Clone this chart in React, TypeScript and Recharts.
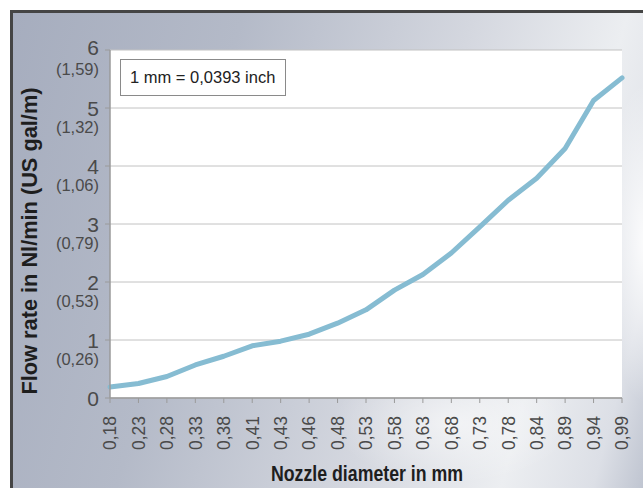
import { LineChart, Line, XAxis, YAxis, CartesianGrid } from "recharts";

const diameters = [
  "0,18", "0,23", "0,28", "0,33", "0,38", "0,41", "0,43", "0,46", "0,48", "0,53",
  "0,58", "0,63", "0,68", "0,73", "0,78", "0,84", "0,89", "0,94", "0,99",
];
const flowNl = [
  0.19, 0.25, 0.37, 0.57, 0.72, 0.9, 0.98, 1.1, 1.29, 1.52,
  1.86, 2.13, 2.5, 2.95, 3.41, 3.79, 4.3, 5.13, 5.52,
];
const flowTicks = [0, 1, 2, 3, 4, 5, 6];
const galLabels = ["", "(0,26)", "(0,53)", "(0,79)", "(1,06)", "(1,32)", "(1,59)"];

const data = diameters.map((d, i) => ({ d, flow: flowNl[i] }));

const FONT = "'Liberation Sans', Arial, sans-serif";

function FlowTick({ x, y, payload }: any) {
  const gal = galLabels[flowTicks.indexOf(payload.value)];
  const top = payload.value === 6 ? -3 : 0;
  return (
    <g>
      <text x={x - 4} y={y + top} dy="0.36em" textAnchor="end" fontSize={21} fill="#4a4a4a" fontFamily={FONT}>
        {payload.value}
      </text>
      {gal && (
        <text x={x - 4} y={y + 19} dy="0.36em" textAnchor="end" fontSize={16.5} fill="#4a4a4a" fontFamily={FONT}>
          {gal}
        </text>
      )}
    </g>
  );
}

function DiameterTick({ x, y, payload }: any) {
  return (
    <text
      transform={`translate(${x},${y + 11}) rotate(-90)`}
      textAnchor="end"
      dy="0.36em"
      fontSize={17.5}
      fill="#4a4a4a"
      fontFamily={FONT}
    >
      {payload.value}
    </text>
  );
}

export default function App() {
  return (
    <div style={{ position: "fixed", left: 0, top: 0, width: 643, height: 488, background: "#fff", overflow: "hidden" }}>
      <div
        style={{
          position: "absolute",
          left: 10,
          top: 10,
          width: 640,
          height: 480,
          borderTop: "3px solid #454545",
          borderLeft: "3px solid #454545",
          background:
            "radial-gradient(ellipse 40px 160px at 632px 230px, rgba(255,255,255,0.9), rgba(255,255,255,0) 100%)," +
            "radial-gradient(ellipse 120px 60px at 440px 410px, rgba(255,255,255,0.55), rgba(255,255,255,0) 100%)," +
            "linear-gradient(105deg, #a6adbe 0%, #b4bac8 30%, #d4d7df 60%, #eceef1 80%, #dcdfe6 92%, #b9bfcc 100%)",
        }}
      />
      <div style={{ position: "absolute", left: 0, top: 0 }}>
        <LineChart width={643} height={488} data={data} margin={{ top: 50, right: 21, left: 0, bottom: 0 }}>
          <CartesianGrid vertical={false} stroke="#c2c2c2" fill="#ffffff" />
          <XAxis
            dataKey="d"
            height={90}
            interval={0}
            tick={<DiameterTick />}
            tickSize={5}
            tickMargin={2}
            axisLine={{ stroke: "#9a9a9a", strokeWidth: 1.5 }}
            tickLine={{ stroke: "#9a9a9a" }}
          />
          <YAxis
            width={110}
            domain={[0, 6]}
            ticks={flowTicks}
            tick={<FlowTick />}
            tickSize={5}
            tickMargin={2}
            axisLine={{ stroke: "#9a9a9a", strokeWidth: 1.5 }}
            tickLine={{ stroke: "#9a9a9a" }}
          />
          <YAxis
            yAxisId="r"
            orientation="right"
            width={0}
            tick={false}
            tickLine={false}
            axisLine={{ stroke: "#c8c8c8" }}
          />
          <Line
            type="linear"
            dataKey="flow"
            stroke="#86bcd2"
            strokeWidth={5}
            dot={false}
            isAnimationActive={false}
            strokeLinejoin="round"
            strokeLinecap="round"
          />
        </LineChart>
      </div>
      <div
        style={{
          position: "absolute",
          left: 120,
          top: 59,
          width: 166,
          height: 37,
          border: "1px solid #8a8a8a",
          background: "#fff",
          fontFamily: FONT,
          fontSize: 16.5,
          color: "#222",
          lineHeight: "35px",
          paddingLeft: 9,
          boxSizing: "border-box",
          whiteSpace: "nowrap",
        }}
      >
        1 mm = 0,0393 inch
      </div>
      <svg style={{ position: "absolute", left: 0, top: 0 }} width={643} height={488}>
        <text
          x={367}
          y={473}
          dy="0.36em"
          textAnchor="middle"
          fontSize={22}
          fontWeight="bold"
          fill="#1e1e1e"
          fontFamily={FONT}
          textLength={192}
          lengthAdjust="spacingAndGlyphs"
        >
          Nozzle diameter in mm
        </text>
        <text
          transform="translate(29,241) rotate(-90)"
          dy="0.36em"
          textAnchor="middle"
          fontSize={22}
          fontWeight="bold"
          fill="#1e1e1e"
          fontFamily={FONT}
          textLength={307}
          lengthAdjust="spacingAndGlyphs"
        >
          Flow rate in Nl/min (US gal/m)
        </text>
      </svg>
    </div>
  );
}
